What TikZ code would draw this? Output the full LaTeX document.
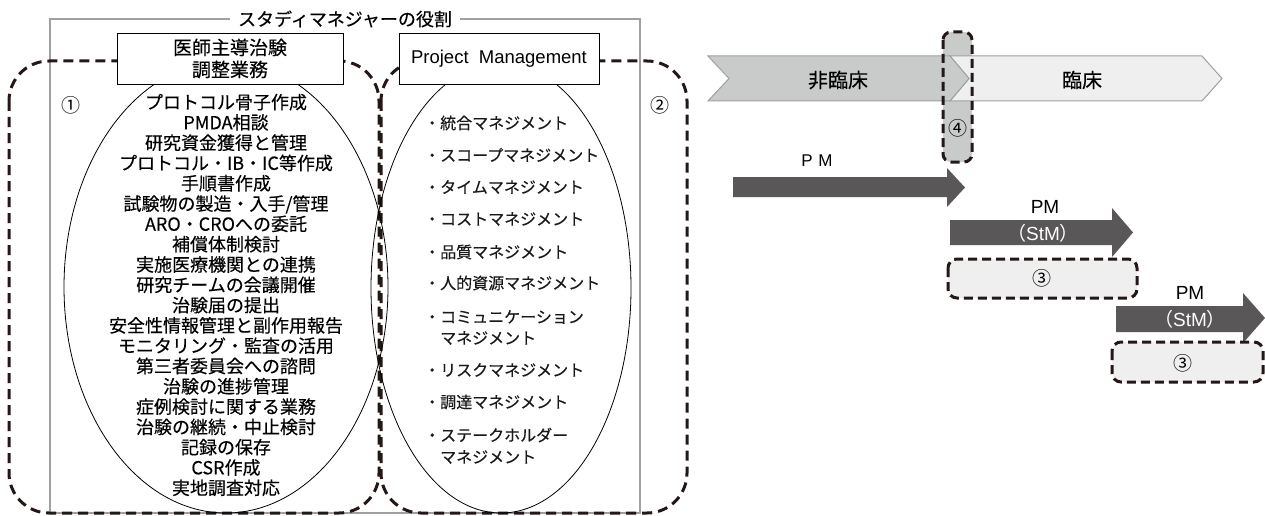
\documentclass[tikz,border=0pt]{standalone}
\usepackage{fontspec}
\setmainfont{Noto Sans CJK JP}[FakeBold=0.25]
\newfontfamily\plainjp{Noto Sans CJK JP}
\newfontfamily\lat{Liberation Sans}
\definecolor{dk}{HTML}{231815}
\definecolor{arr}{HTML}{595757}
\definecolor{gA}{HTML}{C9CACA}
\definecolor{gB}{HTML}{EFEFEF}
\definecolor{frm}{HTML}{9FA0A0}
\begin{document}
\begin{tikzpicture}[x=1pt,y=-1pt,
  dashreg/.style={draw=dk, line width=3pt, dash pattern=on 10pt off 6pt, rounded corners=40pt},
  dashbox/.style={draw=dk, line width=3pt, dash pattern=on 9pt off 5pt, rounded corners=9pt},
  titlebox/.style={draw=black, line width=0.9pt, fill=white},
  ell/.style={draw=black, line width=0.8pt},
  item/.style={anchor=west, inner sep=0pt, font=\fontsize{16pt}{16pt}\selectfont, text=black!90},
  blockarrow/.style={fill=arr},
  circnum/.style={inner sep=0pt, font=\plainjp\fontsize{19pt}{19pt}\selectfont},
  pmlabel/.style={inner sep=0pt, font=\lat\fontsize{19pt}{19pt}\selectfont},
  stmlabel/.style={inner sep=0pt, text=white, font=\plainjp\fontsize{19pt}{19pt}\selectfont}
]
\useasboundingbox (0,0) rectangle (1265,516);
\fill[white] (0,0) rectangle (1265,516);

% gray frame
\draw[frm, line width=1.6pt] (50,19) -- (50,513) -- (640,513) -- (640,19) -- cycle;
\node[fill=white, inner xsep=8pt, inner ysep=2pt, font=\fontsize{18pt}{18pt}\selectfont] (title) at (345,19) {スタディマネジャーの役割};

% dashed regions
\draw[dashreg] (9,61) rectangle (379,513);
\draw[dashreg] (381,61) rectangle (687,513);

% ellipses
\draw[ell] (226,287) ellipse [x radius=162, y radius=226];
\draw[ell] (501,288) ellipse [x radius=130, y radius=225];

% header boxes
\node[titlebox, minimum width=226pt, minimum height=51pt, align=center, font=\fontsize{19pt}{22pt}\selectfont, inner sep=0pt] (box1) at (230,58.5) {医師主導治験\\調整業務};
\node[titlebox, minimum width=200pt, minimum height=51pt, font=\lat\fontsize{18.5pt}{18.5pt}\selectfont, inner sep=0pt] (box2) at (499,58.5) {Project\ \ Management};

\node[circnum] (c1) at (71,105) {①};
\node[circnum] (c2) at (660,105) {②};

% left list
\node[align=center, inner sep=0pt, font=\fontsize{18pt}{20.3pt}\selectfont] (list1) at (226,295) {プロトコル骨子作成\\PMDA相談\\研究資金獲得と管理\\プロトコル・IB・IC等作成\\手順書作成\\試験物の製造・入手/管理\\ARO・CROへの委託\\補償体制検討\\実施医療機関との連携\\研究チームの会議開催\\治験届の提出\\安全性情報管理と副作用報告\\モニタリング・監査の活用\\第三者委員会への諮問\\治験の進捗管理\\症例検討に関する業務\\治験の継続・中止検討\\記録の保存\\CSR作成\\実地調査対応};

% right list
\node[item] (i1) at (424,123) {・統合マネジメント};
\node[item] (i2) at (424,155) {・スコープマネジメント};
\node[item] (i3) at (424,187) {・タイムマネジメント};
\node[item] (i4) at (424,219) {・コストマネジメント};
\node[item] (i5) at (424,252) {・品質マネジメント};
\node[item] (i6) at (424,283) {・人的資源マネジメント};
\node[item] (i7) at (424,317) {・コミュニケーション};
\node[item] (i7b) at (440,338) {マネジメント};
\node[item] (i8) at (424,370) {・リスクマネジメント};
\node[item] (i9) at (424,402) {・調達マネジメント};
\node[item] (i10) at (424,435) {・ステークホルダー};
\node[item] (i10b) at (440,457) {マネジメント};

% right side timeline
\fill[gA, rounded corners=8pt] (943,32) rectangle (972,162);
\filldraw[fill=gB, draw=frm, line width=1pt] (950,56) -- (1202,56) -- (1222,78.5) -- (1202,101) -- (950,101) -- (969,78.5) -- cycle;
\filldraw[fill=gA, draw=frm, line width=1pt] (708,56) -- (950,56) -- (969,78.5) -- (950,101) -- (708,101) -- (729,78.5) -- cycle;
\draw[dashbox, rounded corners=8pt] (943,32) rectangle (972,162);
\node[inner sep=0pt, font=\fontsize{20pt}{20pt}\selectfont] (nc) at (838,80) {非臨床};
\node[inner sep=0pt, font=\fontsize{20pt}{20pt}\selectfont] (cl) at (1082,80) {臨床};
\node[circnum] (c4) at (958,128) {④};

% PM arrows
\fill[blockarrow] (733,177) -- (947,177) -- (947,168) -- (965,187.5) -- (947,207) -- (947,197) -- (733,197) -- cycle;
\node[pmlabel, font=\lat\fontsize{17pt}{17pt}\selectfont] (pm1) at (817,161) {P\,\,M};

\fill[blockarrow] (950,220) -- (1112,220) -- (1112,208) -- (1133,232.5) -- (1112,257) -- (1112,245) -- (950,245) -- cycle;
\node[pmlabel] (pm2) at (1045,207) {PM};
\node[stmlabel] (stm2) at (1043,233) {（{\lat StM}）};
\filldraw[dashbox, fill=gB] (948,259) rectangle (1137,298);
\node[circnum] (c3a) at (1042,278) {③};

\fill[blockarrow] (1116,306) -- (1243,306) -- (1243,293) -- (1265,318) -- (1243,343) -- (1243,332) -- (1116,332) -- cycle;
\node[pmlabel] (pm3) at (1190,293) {PM};
\node[stmlabel] (stm3) at (1190,319) {（{\lat StM}）};
\filldraw[dashbox, fill=gB] (1112,342) rectangle (1263,382);
\node[circnum] (c3b) at (1183,363) {③};
\end{tikzpicture}
\end{document}
